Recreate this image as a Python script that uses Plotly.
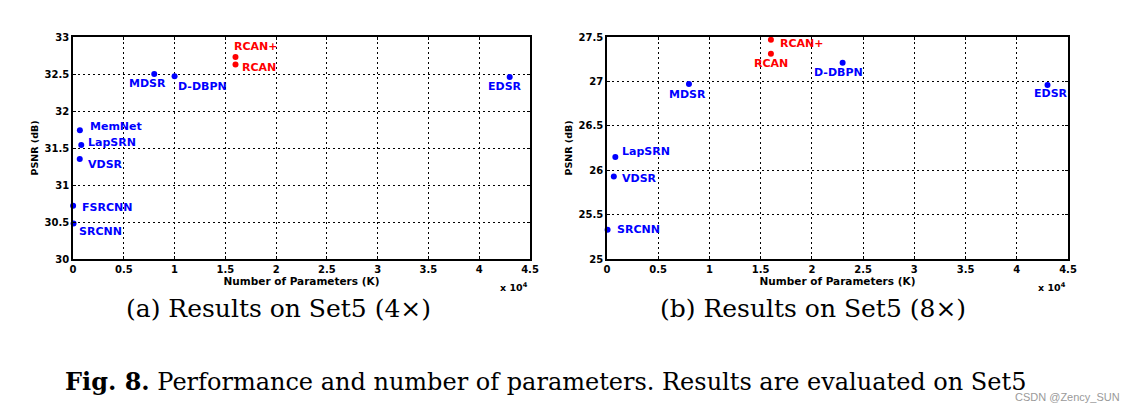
import plotly.graph_objects as go

# ---------------- data ----------------
# (a) Set5 4x : parameters in units of 1e4 K
names_a = ["SRCNN", "FSRCNN", "VDSR", "LapSRN", "MemNet", "MDSR", "D-DBPN", "EDSR", "RCAN", "RCAN+"]
params_a = [0.0057, 0.0012, 0.0665, 0.0813, 0.0677, 0.8, 1.0, 4.3, 1.6, 1.6]
psnr_a = [30.48, 30.72, 31.35, 31.54, 31.74, 32.50, 32.47, 32.46, 32.63, 32.73]

# (b) Set5 8x
names_b = ["SRCNN", "VDSR", "LapSRN", "MDSR", "D-DBPN", "EDSR", "RCAN", "RCAN+"]
params_b = [0.0057, 0.0665, 0.0813, 0.8, 2.3, 4.3, 1.6, 1.6]
psnr_b = [25.33, 25.93, 26.15, 26.97, 27.21, 26.96, 27.31, 27.47]

xticks = [0, 0.5, 1, 1.5, 2, 2.5, 3, 3.5, 4, 4.5]
yticks_a = [30, 30.5, 31, 31.5, 32, 32.5, 33]
yticks_b = [25, 25.5, 26, 26.5, 27, 27.5]

ours = {"RCAN", "RCAN+"}

# label placement styles (anchor, xshift px, yshift px)
lab_a = {
    "SRCNN": ("left", 3, -8), "FSRCNN": ("left", 7, -2), "VDSR": ("left", 6, -5),
    "LapSRN": ("left", 5, 3), "MemNet": ("left", 8, 4), "MDSR": ("center", -7, -10),
    "D-DBPN": ("left", 1, -10), "EDSR": ("center", -5, -10), "RCAN": ("left", 5, -3),
    "RCAN+": ("left", -3, 10),
}
lab_b = {
    "SRCNN": ("left", 7, 0), "VDSR": ("left", 6, -2), "LapSRN": ("left", 5, 5),
    "MDSR": ("center", -1, -10), "D-DBPN": ("center", -4, -10), "EDSR": ("center", 3, -9),
    "RCAN": ("center", 0, -10), "RCAN+": ("left", 7, -4),
}

BLUE = "#0000ff"
RED = "#ff0000"
LABEL_FONT = "DejaVu Sans"

fig = go.Figure()


def add_panel(names, xs, ys, labs, xa, ya):
    cols = [RED if n in ours else BLUE for n in names]
    fig.add_trace(go.Scatter(
        x=xs, y=ys, mode="markers", xaxis=xa, yaxis=ya, cliponaxis=False,
        marker=dict(size=6, color=cols), showlegend=False, hoverinfo="skip"))
    for n, x, y, c in zip(names, xs, ys, cols):
        anc, dx, dy = labs[n]
        fig.add_annotation(
            x=x, y=y, xref=xa, yref=ya, text=n, showarrow=False,
            xanchor=anc, yanchor="middle", xshift=dx, yshift=dy,
            font=dict(family=LABEL_FONT, size=11, color=c, weight="bold"))


add_panel(names_a, params_a, psnr_a, lab_a, "x", "y")
add_panel(names_b, params_b, psnr_b, lab_b, "x2", "y2")

W, H = 1128, 412
axis_common = dict(
    showline=True, linecolor="black", linewidth=1.5, mirror="ticks",
    ticks="inside", ticklen=3, tickcolor="black", tickwidth=1,
    showgrid=True, gridcolor="black", gridwidth=1, griddash="2px,3px",
    zeroline=False, automargin=False,
    tickfont=dict(family=LABEL_FONT, size=10, color="black", weight="bold"),
)
xtitle = dict(text="Number of Parameters (K)", standoff=2,
              font=dict(family=LABEL_FONT, size=10.5, color="black", weight="bold"))
ytitle = dict(text="PSNR (dB)", standoff=4,
              font=dict(family=LABEL_FONT, size=9.5, color="black", weight="bold"))

ybot = 1 - 259 / H
ytop = 1 - 37 / H

fig.update_layout(
    width=W, height=H, margin=dict(l=0, r=0, t=0, b=0),
    paper_bgcolor="white", plot_bgcolor="white",
    xaxis=dict(domain=[73 / W, 530 / W], range=[0, 4.5], tickvals=xticks,
               ticktext=[f"{v:g}" for v in xticks], anchor="y", title=xtitle, **axis_common),
    yaxis=dict(domain=[ybot, ytop], range=[30, 33], tickvals=yticks_a,
               ticktext=[f"{v:g}" for v in yticks_a], anchor="x", title=ytitle, **axis_common),
    xaxis2=dict(domain=[607 / W, 1068 / W], range=[0, 4.5], tickvals=xticks,
                ticktext=[f"{v:g}" for v in xticks], anchor="y2", title=xtitle, **axis_common),
    yaxis2=dict(domain=[ybot, ytop], range=[25, 27.5], tickvals=yticks_b,
                ticktext=[f"{v:g}" for v in yticks_b], anchor="x2", title=ytitle, **axis_common),
)

# exponent labels
for xr in (530 / W, 1068 / W):
    fig.add_annotation(x=xr, y=1 - 287 / H, xref="paper", yref="paper",
                       text="x 10<sup>4</sup>", showarrow=False, xanchor="right", yanchor="middle",
                       font=dict(family=LABEL_FONT, size=9.5, color="black", weight="bold"))

SERIF = "DejaVu Serif"
fig.add_annotation(x=278 / W, y=1 - 308 / H, xref="paper", yref="paper",
                   text="(a) Results on Set5 (4×)", showarrow=False,
                   xanchor="center", yanchor="middle",
                   font=dict(family=SERIF, size=25, color="black"))
fig.add_annotation(x=813 / W, y=1 - 308 / H, xref="paper", yref="paper",
                   text="(b) Results on Set5 (8×)", showarrow=False,
                   xanchor="center", yanchor="middle",
                   font=dict(family=SERIF, size=25, color="black"))
fig.add_annotation(x=545 / W, y=1 - 381 / H, xref="paper", yref="paper",
                   text="<b>Fig. 8.</b> Performance and number of parameters. Results are evaluated on Set5",
                   showarrow=False, xanchor="center", yanchor="middle",
                   font=dict(family=SERIF, size=24, color="black"))
fig.add_annotation(x=1122 / W, y=1 - 397 / H, xref="paper", yref="paper",
                   text="CSDN @Zency_SUN", showarrow=False, xanchor="right", yanchor="middle",
                   font=dict(family="Liberation Sans", size=11, color="#9a9a9a"))

fig.write_html("out.html", config={"displayModeBar": False},
               post_script="document.body.style.margin='0';")
